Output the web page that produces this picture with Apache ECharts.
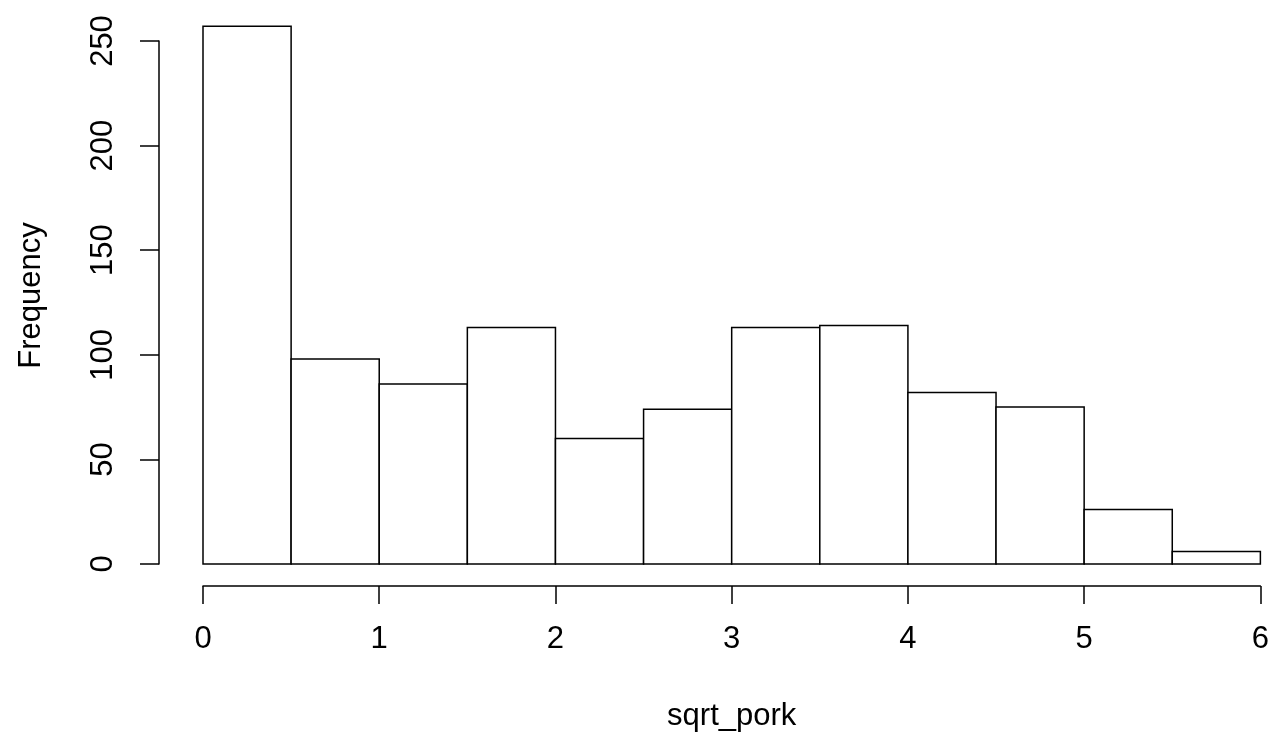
<!DOCTYPE html>
<html>
<head>
<meta charset="utf-8">
<script src="https://cdn.jsdelivr.net/npm/echarts@6/dist/echarts.min.js"></script>
<style>
  html, body { margin: 0; padding: 0; background: #fff; }
  #chart { width: 1272px; height: 740px; }
</style>
</head>
<body>
<div id="chart"></div>
<script>
// Histogram bins of sqrt_pork (width 0.5) and their counts
const binStarts = [0, 0.5, 1, 1.5, 2, 2.5, 3, 3.5, 4, 4.5, 5, 5.5];
const binEnds   = [0.5, 1, 1.5, 2, 2.5, 3, 3.5, 4, 4.5, 5, 5.5, 6];
const counts    = [257, 98, 86, 113, 60, 74, 113, 114, 82, 75, 26, 6];

const xTitle = 'sqrt_pork';
const yTitle = 'Frequency';

const font = 'Liberation Sans, Arial, sans-serif';
const ink = '#000';

const data = binStarts.map((s, i) => [s, binEnds[i], counts[i]]);

const chart = echarts.init(document.getElementById('chart'), null, { renderer: 'canvas' });

chart.setOption({
  backgroundColor: '#fff',
  animation: false,
  grid: { left: 203, right: 4, top: 41, bottom: 176 },
  xAxis: {
    type: 'value',
    min: 0, max: 6, interval: 1,
    offset: 22,
    name: xTitle,
    nameLocation: 'middle',
    nameGap: 115,
    nameTextStyle: { color: ink, fontSize: 31, fontFamily: font },
    axisLine: { show: true, onZero: false, lineStyle: { color: ink, width: 1.5 } },
    axisTick: { show: true, length: 18, lineStyle: { color: ink, width: 1.5 } },
    axisLabel: { color: ink, fontSize: 31, fontFamily: font, margin: 38 },
    splitLine: { show: false }
  },
  yAxis: {
    type: 'value',
    min: 0, max: 250, interval: 50,
    offset: 44,
    name: yTitle,
    nameLocation: 'middle',
    nameGap: 112,
    nameRotate: 90,
    nameTextStyle: { color: ink, fontSize: 31, fontFamily: font, padding: [0, 0, 0, 14] },
    axisLine: { show: true, onZero: false, lineStyle: { color: ink, width: 1.5 } },
    axisTick: { show: true, length: 19, lineStyle: { color: ink, width: 1.5 } },
    axisLabel: { color: ink, fontSize: 31, fontFamily: font, rotate: 90, margin: 40 },
    splitLine: { show: false }
  },
  series: [{
    type: 'custom',
    clip: false,
    data: data,
    encode: { x: [0, 1], y: 2 },
    renderItem: function (params, api) {
      const p0 = api.coord([api.value(0), api.value(2)]);
      const p1 = api.coord([api.value(1), 0]);
      return {
        type: 'rect',
        shape: { x: p0[0], y: p0[1], width: p1[0] - p0[0], height: p1[1] - p0[1] },
        style: { fill: '#fff', stroke: ink, lineWidth: 1.5 }
      };
    }
  }]
});
</script>
</body>
</html>
